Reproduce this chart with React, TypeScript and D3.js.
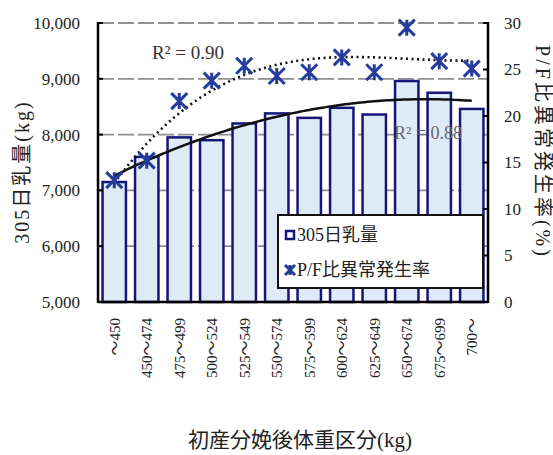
import React from "react";
import * as d3 from "d3";

const categories = ["～450", "450～474", "475～499", "500～524", "525～549", "550～574", "575～599", "600～624", "625～649", "650～674", "675～699", "700～"];
const milk = [7150, 7600, 7950, 7900, 8200, 8380, 8300, 8480, 8360, 8960, 8750, 8460];
const pfRate = [13.1, 15.2, 21.6, 23.8, 25.4, 24.3, 24.7, 26.3, 24.7, 29.5, 25.9, 25.1];
const leftTicks = [5000, 6000, 7000, 8000, 9000, 10000];
const rightTicks = [0, 5, 10, 15, 20, 25, 30];
const r2Labels = ["R² = 0.90", "R² = 0.88"];
const legendLabels = ["305日乳量", "P/F比異常発生率"];

function polyFit(ys: number[], order: number) {
  const n = order + 1;
  const A: number[][] = Array.from({ length: n }, () => Array(n + 1).fill(0));
  ys.forEach((y, i) => {
    const x = i + 1;
    for (let r = 0; r < n; r++) {
      for (let c = 0; c < n; c++) A[r][c] += Math.pow(x, r + c);
      A[r][n] += y * Math.pow(x, r);
    }
  });
  for (let i = 0; i < n; i++) {
    let p = i;
    for (let k = i + 1; k < n; k++) if (Math.abs(A[k][i]) > Math.abs(A[p][i])) p = k;
    [A[i], A[p]] = [A[p], A[i]];
    for (let k = 0; k < n; k++) {
      if (k === i) continue;
      const f = A[k][i] / A[i][i];
      for (let c = i; c <= n; c++) A[k][c] -= f * A[i][c];
    }
  }
  const coef = A.map((row, i) => row[n] / row[i]);
  return (x: number) => coef.reduce((s, c, k) => s + c * Math.pow(x, k), 0);
}

const FONT = "'Liberation Serif', 'Noto Sans CJK JP', serif";

export default function App() {
  const W = 553, H = 455;
  const L = 98, R = 488, T = 23, B = 302;
  const x = d3.scaleBand<string>().domain(categories).range([L, R]).paddingInner(0.28).paddingOuter(0.14);
  const yL = d3.scaleLinear().domain([5000, 10000]).range([B, T]);
  const yR = d3.scaleLinear().domain([0, 30]).range([B, T]);
  const cx = (i: number) => (x(categories[i]) as number) + x.bandwidth() / 2;

  const fitMilk = polyFit(milk, 2);
  const fitPF = polyFit(pfRate, 3);
  const samples = d3.range(1, 12.001, 0.1);
  const xi = (t: number) => cx(0) + (t - 1) * x.step();
  const milkLine = d3.line<number>().x(xi).y((t) => yL(fitMilk(t)))(samples) as string;
  const pfLine = d3.line<number>().x(xi).y((t) => yR(fitPF(t)))(samples) as string;

  const star = (r: number) => `M${-r},${-r}L${r},${r}M${-r},${r}L${r},${-r}M0,${-r}L0,${r}`;
  const navy = "#16167a";
  const blue = "#253c9c";

  return (
    <svg width={W} height={H} style={{ position: "absolute", left: 0, top: 0, background: "#fff" }} fontFamily={FONT}>
      <rect width={W} height={H} fill="#fff" />
      {leftTicks.slice(1).map((v) => (
        <line key={v} x1={L} x2={R} y1={yL(v)} y2={yL(v)} stroke="#8e8e8e" strokeWidth={1.8} strokeDasharray="16,4" />
      ))}
      {milk.map((v, i) => (
        <rect key={i} x={x(categories[i])} y={yL(v)} width={x.bandwidth()} height={B - yL(v)} fill="#dfeaf7" stroke={navy} strokeWidth={2.5} />
      ))}
      <text x={428} y={139} fontSize={18} fill="#666" textAnchor="middle">{r2Labels[1]}</text>
      <path d={milkLine} fill="none" stroke="#111" strokeWidth={2.5} />
      <path d={pfLine} fill="none" stroke="#111" strokeWidth={2.6} strokeDasharray="2,3.5" />
      {pfRate.map((v, i) => (
        <path key={i} d={star(8)} transform={`translate(${cx(i)},${yR(v)})`} stroke={blue} strokeWidth={3} fill="none" />
      ))}
      <text x={188} y={59} fontSize={19} fill="#333" textAnchor="middle">{r2Labels[0]}</text>
      <line x1={L} x2={L} y1={T - 1} y2={B + 1} stroke="#000" strokeWidth={2.5} />
      <line x1={R} x2={R} y1={T - 1} y2={B + 1} stroke="#000" strokeWidth={2.5} />
      <line x1={L} x2={R} y1={B} y2={B} stroke="#000" strokeWidth={2.5} />
      {leftTicks.map((v) => (
        <g key={v}>
          <line x1={L} x2={L + 5} y1={yL(v)} y2={yL(v)} stroke="#000" strokeWidth={2} />
          <text x={80} y={yL(v)} dy="0.35em" fontSize={17} textAnchor="end" fill="#222">{d3.format(",")(v)}</text>
        </g>
      ))}
      {rightTicks.map((v) => (
        <g key={v}>
          <line x1={R - 5} x2={R} y1={yR(v)} y2={yR(v)} stroke="#000" strokeWidth={2} />
          <text x={504} y={yR(v)} dy="0.35em" fontSize={17} textAnchor="start" fill="#222">{v}</text>
        </g>
      ))}
      {categories.map((c, i) => (
        <text key={c} transform={`translate(${cx(i)},318) rotate(-90)`} dy="0.35em" fontSize={15} textAnchor="end" fill="#222">{c}</text>
      ))}
      <rect x={278} y={215} width={205} height={73} fill="#fff" stroke="#111" strokeWidth={2} />
      <rect x={286} y={231} width={8} height={8} fill="#fff" stroke={navy} strokeWidth={2.5} />
      <text x={297} y={235} dy="0.35em" fontSize={18} fill="#222">{legendLabels[0]}</text>
      <path d={star(5)} transform="translate(290,270)" stroke={blue} strokeWidth={3} fill="none" />
      <text x={297} y={270} dy="0.35em" fontSize={18} fill="#222">{legendLabels[1]}</text>
      <text transform="translate(22,172) rotate(-90)" dy="0.35em" fontSize={20} textAnchor="middle" fill="#222" letterSpacing={2}>305日乳量(kg)</text>
      <text transform="translate(543,152) rotate(90)" dy="0.35em" fontSize={20} textAnchor="middle" fill="#222" letterSpacing={3}>P/F比異常発生率(%)</text>
      <text x={300} y={440} dy="0.35em" fontSize={21} textAnchor="middle" fill="#222">初産分娩後体重区分(kg)</text>
    </svg>
  );
}
